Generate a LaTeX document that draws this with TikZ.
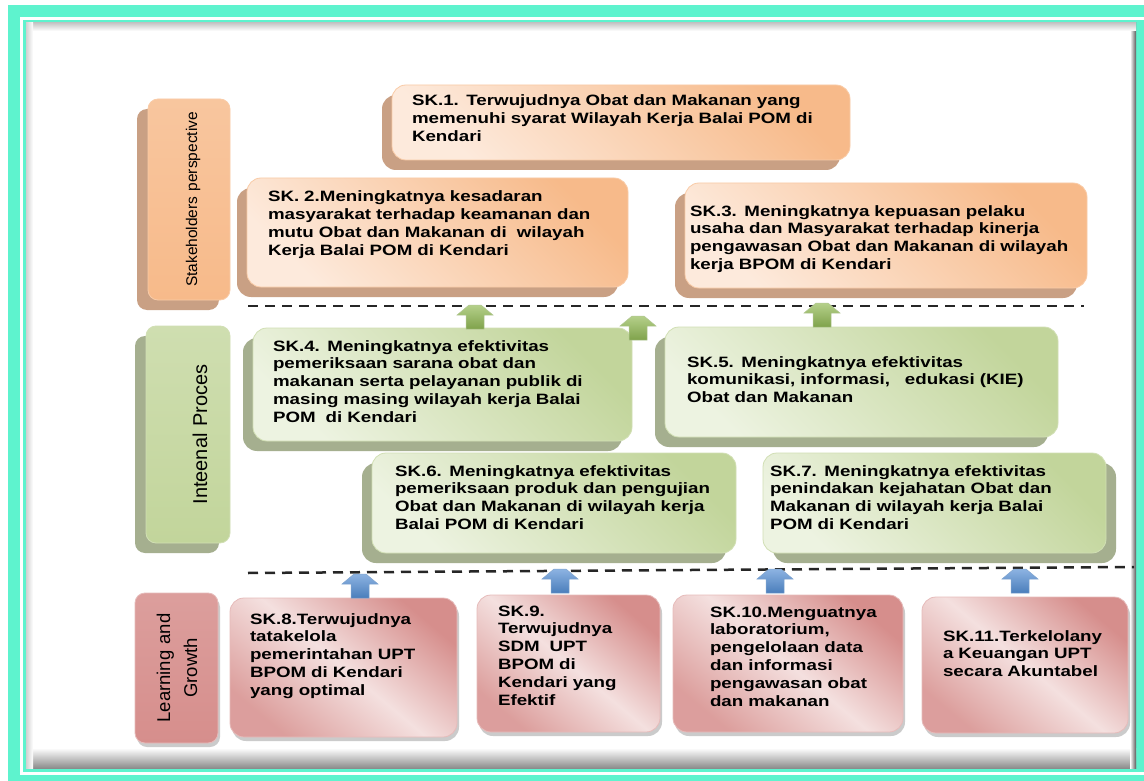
\documentclass[tikz,border=0pt]{standalone}
\usepackage{fontspec}
\newfontfamily\skfont{Liberation Sans}[FakeStretch=1.25]
\newfontfamily\lblfont{Liberation Sans}
\usetikzlibrary{shadows}

\definecolor{turq}{HTML}{5EF3CE}
\definecolor{orDark}{HTML}{F7BA8A}
\definecolor{orLight}{HTML}{FDEADC}
\definecolor{orShade}{HTML}{C9A084}
\definecolor{grDark}{HTML}{C2D59B}
\definecolor{grLight}{HTML}{EDF3E1}
\definecolor{grShade}{HTML}{A5AF8F}
\definecolor{rdDark}{HTML}{D68E8C}
\definecolor{rdLight}{HTML}{F4E0DF}
\definecolor{arGreenA}{HTML}{B5D08A}
\definecolor{arGreenB}{HTML}{7FA24B}
\definecolor{arBlueA}{HTML}{8DB3E2}
\definecolor{arBlueB}{HTML}{4A7EBB}

\tikzset{
  skbox/.style={rounded corners=14pt, inner sep=0pt, align=left, line width=0.8pt,
    font=\skfont\bfseries\fontsize{15}{17.8}\selectfont},
  padl/.style={execute at begin node={\leftskip=#1pt\relax}},
  orbox/.style={skbox, draw=orDark!75!white, top color=orDark, bottom color=orLight,
    shading angle=-45,
    drop shadow={shadow xshift=-10pt, shadow yshift=-10pt, fill=orShade, opacity=1}},
  grbox/.style={skbox, draw=grDark!75!white, top color=grDark, bottom color=grLight,
    shading angle=-45,
    drop shadow={shadow xshift=#1, shadow yshift=-10pt, fill=grShade, opacity=1}},
  grbox/.default=-10pt,
  rdbox/.style={skbox, draw=rdDark!60!white, top color=rdDark,
    bottom color=rdDark!80!rdLight, middle color=rdLight, shading angle=-40,
    drop shadow={shadow xshift=2pt, shadow yshift=-4pt, fill=black!40, opacity=.5}},
  lblbox/.style={rounded corners=10pt, rotate=90, inner ysep=0pt, inner xsep=5pt,
    align=center, line width=0.8pt},
  sepline/.style={line width=2.5pt, dash pattern=on 10pt off 7pt, black!85},
  uparr/.pic={\path[pic actions] (-9,0) -- (-9,-14) -- (-18,-14) -- (-6,-24)
    -- (6,-24) -- (18,-14) -- (9,-14) -- (9,0) -- cycle;},
  grarr/.style={top color=arGreenA, bottom color=arGreenB, draw=arGreenB!60!white, line width=0.5pt},
  blarr/.style={top color=arBlueA, bottom color=arBlueB, draw=arBlueB!70!white, line width=0.5pt}
}

\begin{document}
\begin{tikzpicture}[x=1pt, y=-1pt]
\useasboundingbox (0,0) rectangle (1144,781);

\fill[turq] (8,5) rectangle (1144,781);
\draw[white, line width=3pt] (1150,18.5) -- (21,18.5) -- (21,773.5) -- (1150,773.5);
\fill[white] (26,23) rectangle (1136,768);
\shade[top color=white, bottom color=black!45] (26,748) rectangle (1136,768);
\shade[left color=white, right color=black!65] (1130,23) rectangle (1136,768);
\shade[top color=black!22, bottom color=white] (26,23) rectangle (1136,31);
\shade[left color=black!18, right color=white] (26,23) rectangle (33,768);

\node[lblbox, draw=orDark!75!white, top color=orDark!75!orLight, middle color=orLight, bottom color=orDark,
  drop shadow={shadow xshift=-11pt, shadow yshift=-10pt, fill=orShade, opacity=1},
  font=\lblfont\fontsize{15.5}{18}\selectfont, text width=191pt, text height=49pt, text depth=33pt]
  (stake) at (189,199.5) {Stakeholders perspective};

\node[orbox, padl=20, text width=458pt, text height=21pt, text depth=54pt] (sk1) at (621,122.5)
  {SK.1. Terwujudnya Obat dan Makanan yang\\memenuhi syarat Wilayah Kerja Balai POM di\\Kendari};
\node[orbox, padl=21, text width=381pt, text height=24pt, text depth=85pt] (sk2) at (437.5,232.5)
  {SK. 2.Meningkatnya kesadaran\\masyarakat terhadap keamanan dan\\mutu Obat dan Makanan di\ \ wilayah\\Kerja Balai POM di Kendari};
\node[orbox, padl=5, text width=402pt, text height=33pt, text depth=72pt] (sk3) at (886,235.5)
  {SK.3. Meningkatnya kepuasan pelaku\\usaha dan Masyarakat terhadap kinerja\\pengawasan Obat dan Makanan di wilayah\\kerja BPOM di Kendari};

\node[lblbox, draw=grDark!75!white, top color=grDark!70!grLight, middle color=grLight, bottom color=grDark,
  drop shadow={shadow xshift=-11pt, shadow yshift=-10pt, fill=grShade, opacity=1},
  font=\lblfont\fontsize{20}{24}\selectfont, text width=207pt, text height=61pt, text depth=23pt]
  (intern) at (188,434.5) {Inteenal Proces};

\node[grbox, padl=20, text width=379pt, text height=23pt, text depth=90pt] (sk4) at (442.5,384.5)
  {SK.4. Meningkatnya efektivitas\\pemeriksaan sarana obat dan\\makanan serta pelayanan publik di\\masing masing wilayah kerja Balai\\POM\ \ di Kendari};
\node[grbox, padl=22, text width=393pt, text height=40pt, text depth=70pt] (sk5) at (861.5,382)
  {SK.5. Meningkatnya efektivitas\\komunikasi, informasi,\ \ \ edukasi (KIE)\\Obat dan Makanan};
\node[grbox, padl=23, text width=364pt, text height=23pt, text depth=77pt] (sk6) at (554,503)
  {SK.6. Meningkatnya efektivitas\\pemeriksaan produk dan pengujian\\Obat dan Makanan di wilayah kerja\\Balai POM di Kendari};
\node[grbox=10pt, padl=7, text width=343pt, text height=23pt, text depth=77pt] (sk7) at (934.5,503)
  {SK.7. Meningkatnya efektivitas\\penindakan kejahatan Obat dan\\Makanan di wilayah kerja Balai\\POM di Kendari};

\node[lblbox, draw=rdDark!60!white, top color=rdDark!80!rdLight, middle color=rdLight, bottom color=rdDark,
  drop shadow={shadow xshift=2pt, shadow yshift=-4pt, fill=black!40, opacity=.5},
  font=\lblfont\fontsize{18.5}{27}\selectfont, text width=140pt, text height=35pt, text depth=48pt]
  (learn) at (176.5,668) {Learning and\\Growth};

\node[rdbox, padl=20, text width=227pt, text height=26pt, text depth=113pt] (sk8) at (343.5,667.5)
  {SK.8.Terwujudnya\\tatakelola\\pemerintahan UPT\\BPOM di Kendari\\yang optimal};
\node[rdbox, padl=21, text width=183pt, text height=21pt, text depth=116pt] (sk9) at (568.5,663.5)
  {SK.9.\\Terwujudnya\\SDM\ \ UPT\\BPOM di\\Kendari yang\\Efektif};
\node[rdbox, padl=37, text width=230pt, text height=22pt, text depth=115pt] (sk10) at (788,663.5)
  {SK.10.Menguatnya\\laboratorium,\\pengelolaan data\\dan informasi\\pengawasan obat\\dan makanan};
\node[rdbox, padl=21, text width=206pt, text height=44pt, text depth=92pt] (sk11) at (1025,665)
  {SK.11.Terkelolany\\a Keuangan UPT\\secara Akuntabel};

\draw[sepline] (248,306) -- (1084,306);
\draw[sepline] (248,573) -- (1134,567);

\pic[grarr] (up1) at (475,329) {uparr};
\pic[grarr] (up2) at (638,340) {uparr};
\pic[grarr] (up3) at (822,327) {uparr};

\pic[blarr] (lg1) at (360,598) {uparr};
\pic[blarr] (lg2) at (560,593) {uparr};
\pic[blarr] (lg3) at (775,593) {uparr};
\pic[blarr] (lg4) at (1020,593) {uparr};
\end{tikzpicture}
\end{document}
